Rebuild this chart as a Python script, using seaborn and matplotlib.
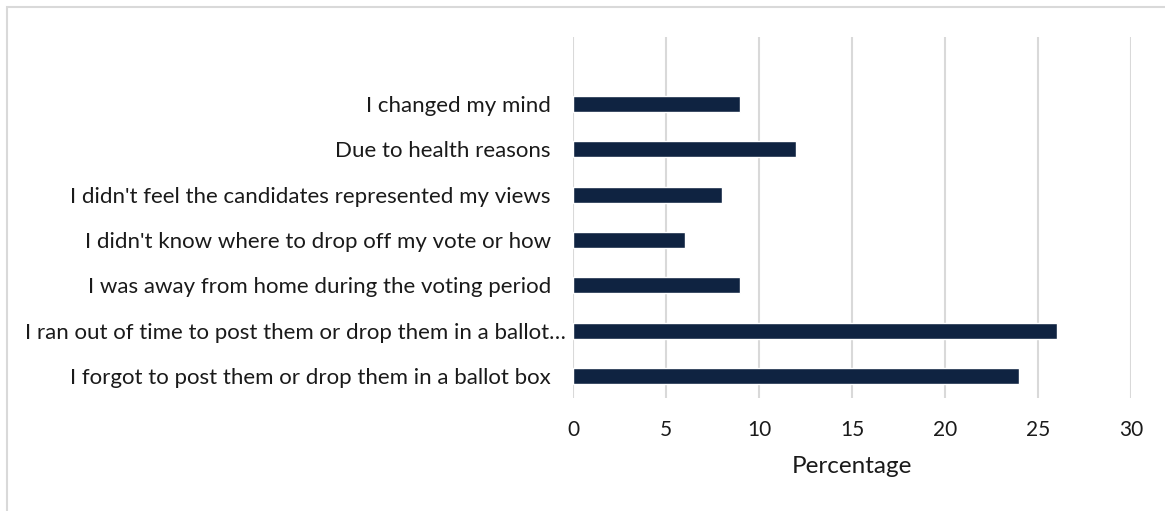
import matplotlib
matplotlib.use("Agg")
import matplotlib.pyplot as plt
import matplotlib.transforms as mtransforms
from matplotlib.patches import Rectangle
import seaborn as sns
import pandas as pd

# datos del gráfico (de arriba hacia abajo)
motivos = [
    "I changed my mind",
    "Due to health reasons",
    "I didn't feel the candidates represented my views",
    "I didn't know where to drop off my vote or how",
    "I was away from home during the voting period",
    "I ran out of time to post them or drop them in a ballot\u2026",
    "I forgot to post them or drop them in a ballot box",
]
porcentajes = [9, 12, 8, 6, 9, 26, 24]
ticks_x = [0, 5, 10, 15, 20, 25, 30]

COLOR_BARRA = "#0f2341"
COLOR_GRID = "#d9d9d9"
COLOR_TEXTO = "#1a1a1a"

df = pd.DataFrame({"motivo": motivos, "porcentaje": porcentajes})

sns.set_theme(style="white")
plt.rcParams["font.family"] = ["Lato", "DejaVu Sans"]

fig = plt.figure(figsize=(11.65, 5.11), dpi=100)
ax = fig.add_axes([573 / 1165, 1 - 398 / 511, (1131 - 573) / 1165, (398 - 37) / 511])

sns.barplot(data=df, x="porcentaje", y="motivo", orient="h",
            color=COLOR_BARRA, width=0.35, saturation=1, ax=ax, zorder=3)

ax.set_xlim(0, 30)
ax.set_ylim(6.485, -1.48)
ax.set_xticks(ticks_x)
ax.grid(axis="x", color=COLOR_GRID, linewidth=1.5, zorder=0)
ax.grid(axis="y", visible=False)
for s in ax.spines.values():
    s.set_visible(False)

ax.tick_params(axis="y", length=0, pad=16, labelsize=16, labelcolor=COLOR_TEXTO)
ax.tick_params(axis="x", length=0, pad=16, labelsize=15, labelcolor=COLOR_TEXTO)
ax.set_ylabel("")
ax.set_xlabel("Percentage", fontsize=17.5, color=COLOR_TEXTO, labelpad=11)

# la etiqueta truncada queda un poco más a la derecha, como en Excel
etiq = ax.get_yticklabels()[5]
etiq.set_transform(etiq.get_transform() +
                   mtransforms.ScaledTranslation(15 / 100, 0, fig.dpi_scale_trans))

# borde gris del gráfico
fig.patches.append(Rectangle((6.5 / 1165, -0.05), 1.2, 1 - 7.5 / 511 + 0.05,
                             transform=fig.transFigure, fill=False,
                             edgecolor=COLOR_GRID, linewidth=1.5))

fig.savefig("out.png", dpi=100, facecolor="white")
